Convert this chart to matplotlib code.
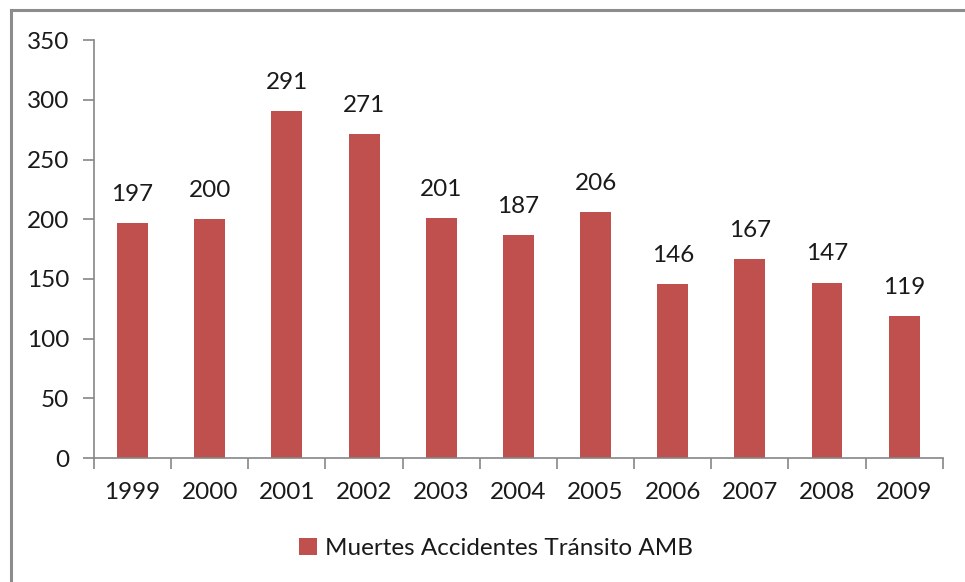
import matplotlib.pyplot as plt
import numpy as np
from matplotlib.lines import Line2D
from matplotlib.ticker import FixedLocator

plt.rcParams['font.family'] = ['Lato', 'DejaVu Sans']

years = ['1999', '2000', '2001', '2002', '2003', '2004', '2005', '2006', '2007', '2008', '2009']
deaths = [197, 200, 291, 271, 201, 187, 206, 146, 167, 147, 119]
series_name = 'Muertes Accidentes Tránsito AMB'

bar_color = '#C0504D'
axis_color = '#868686'
text_color = '#1a1a1a'
fs = 17.5

fig = plt.figure(figsize=(9.65, 5.82), dpi=100)
ax = fig.add_axes([0.0974, 0.213, 0.8796, 0.718])

x = np.arange(len(years))
bars = ax.bar(x, deaths, width=0.4, color=bar_color, label=series_name, zorder=2)

# data labels above bars
for xi, v in zip(x, deaths):
    ax.annotate(str(v), (xi, v), xytext=(0, 13), textcoords='offset points',
                ha='center', va='bottom', fontsize=fs, color=text_color)

ax.set_xlim(-0.5, len(years) - 0.5)
ax.set_ylim(0, 350)
ax.set_yticks(np.arange(0, 351, 50))
ax.set_xticks(x)
ax.set_xticklabels(years)
ax.xaxis.set_minor_locator(FixedLocator(np.arange(-0.5, len(years), 1)))

for s in ['top', 'right']:
    ax.spines[s].set_visible(False)
for s in ['left', 'bottom']:
    ax.spines[s].set_color(axis_color)
    ax.spines[s].set_linewidth(1.2)

ax.tick_params(axis='y', which='major', length=8, width=1.2, color=axis_color,
               labelsize=fs, labelcolor=text_color, pad=10)
ax.tick_params(axis='x', which='major', length=0, labelsize=fs,
               labelcolor=text_color, pad=17)
ax.tick_params(axis='x', which='minor', length=8, width=1.2, color=axis_color)

leg = fig.legend(handles=[bars], labels=[series_name], loc='center',
                 bbox_to_anchor=(0.514, 0.058), frameon=False, fontsize=fs,
                 handlelength=0.75, handleheight=0.75, handletextpad=0.35)
for t in leg.get_texts():
    t.set_color(text_color)

# chart border (only top and left visible in the crop)
fig.add_artist(Line2D([0.0114, 0.0114], [0, 1 - 10 / 582], transform=fig.transFigure,
                      color='#8c8c8c', lw=2.2))
fig.add_artist(Line2D([0.0114, 1], [1 - 10 / 582, 1 - 10 / 582], transform=fig.transFigure,
                      color='#8c8c8c', lw=2.2))

fig.savefig('out.png', dpi=100)
